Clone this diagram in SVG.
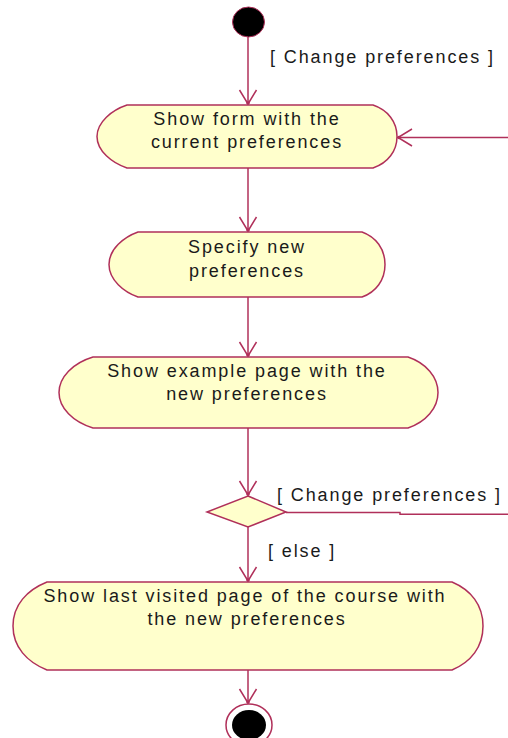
<svg xmlns="http://www.w3.org/2000/svg" width="508" height="738" viewBox="0 0 508 738">
<style>
.act{fill:#ffffcc;stroke:#b0305a;stroke-width:1.5}
.con{fill:none;stroke:#b0305a;stroke-width:1.5}
.t{font-family:"Liberation Sans",Arial,sans-serif;font-size:18px;letter-spacing:1.9px;fill:#1a1a1a}
.m{text-anchor:middle}
</style>
<defs>
<marker id="arr" viewBox="-16 -10 20 20" refX="0" refY="0" markerWidth="20" markerHeight="20" markerUnits="userSpaceOnUse" orient="auto">
<path d="M-14,-8.5 L0,0 L-14,8.5" fill="none" stroke="#b0305a" stroke-width="1.5"/>
<circle cx="-1" cy="0" r="1.8" fill="#b0305a"/>
</marker>
</defs>
<rect width="508" height="738" fill="#ffffff"/>
<g id="connectors">
<line class="con" x1="248" y1="37" x2="248" y2="104" marker-end="url(#arr)"/>
<line class="con" x1="248" y1="168" x2="248" y2="231" marker-end="url(#arr)"/>
<line class="con" x1="248" y1="297" x2="248" y2="356" marker-end="url(#arr)"/>
<line class="con" x1="248" y1="428" x2="248" y2="495" marker-end="url(#arr)"/>
<polyline class="con" points="286,512.5 400,512.5 400,514.3 508,514.3"/>
<line class="con" x1="508" y1="137.5" x2="398" y2="137.5" marker-end="url(#arr)"/>
<line class="con" x1="248" y1="527" x2="248" y2="581" marker-end="url(#arr)"/>
<line class="con" x1="248" y1="670" x2="248" y2="703" marker-end="url(#arr)"/>
<text class="t" x="270" y="63">[ Change preferences ]</text>
<text class="t" x="277" y="501">[ Change preferences ]</text>
<text class="t" x="268" y="557">[ else ]</text>
</g>
<g id="start">
<ellipse cx="248.5" cy="22" rx="16" ry="15" fill="#000" stroke="#b0305a" stroke-width="1"/>
</g>
<g id="act1">
<path class="act" d="M127,105 L373,105 C388,110 397,122 397,136.5 C397,151 388,163 373,168 L127,168 C112,163 97,151 97,136.5 C97,122 112,110 127,105 Z"/>
<text class="t m" x="247" y="125">Show form with the</text>
<text class="t m" x="247" y="148">current preferences</text>
</g>
<g id="act2">
<path class="act" d="M138,232 L362,232 C376,237 385,249 385,264.5 C385,280 376,292 362,297 L138,297 C124,292 109,280 109,264.5 C109,249 124,237 138,232 Z"/>
<text class="t m" x="247" y="253">Specify new</text>
<text class="t m" x="247" y="277">preferences</text>
</g>
<g id="act3">
<path class="act" d="M93,357 L408,357 C426,363 438,377 438,392.5 C438,408 426,422 408,428 L93,428 C73,422 59,408 59,392.5 C59,377 73,363 93,357 Z"/>
<text class="t m" x="247" y="377">Show example page with the</text>
<text class="t m" x="247" y="400">new preferences</text>
</g>
<g id="decision">
<polygon class="act" points="248,496 286,512 248,527 207,512"/>
</g>
<g id="act4">
<path class="act" d="M47,582 L452,582 C471,590 483,605 483,626 C483,647 471,662 452,670 L47,670 C27,662 13,647 13,626 C13,605 27,590 47,582 Z"/>
<text class="t m" x="245" y="602">Show last visited page of the course with</text>
<text class="t m" x="247" y="625">the new preferences</text>
</g>
<g id="end">
<ellipse cx="249" cy="725" rx="23" ry="21" fill="#fff" stroke="#b0305a" stroke-width="1.5"/>
<ellipse cx="249" cy="725" rx="17" ry="15" fill="#000"/>
</g>
</svg>
